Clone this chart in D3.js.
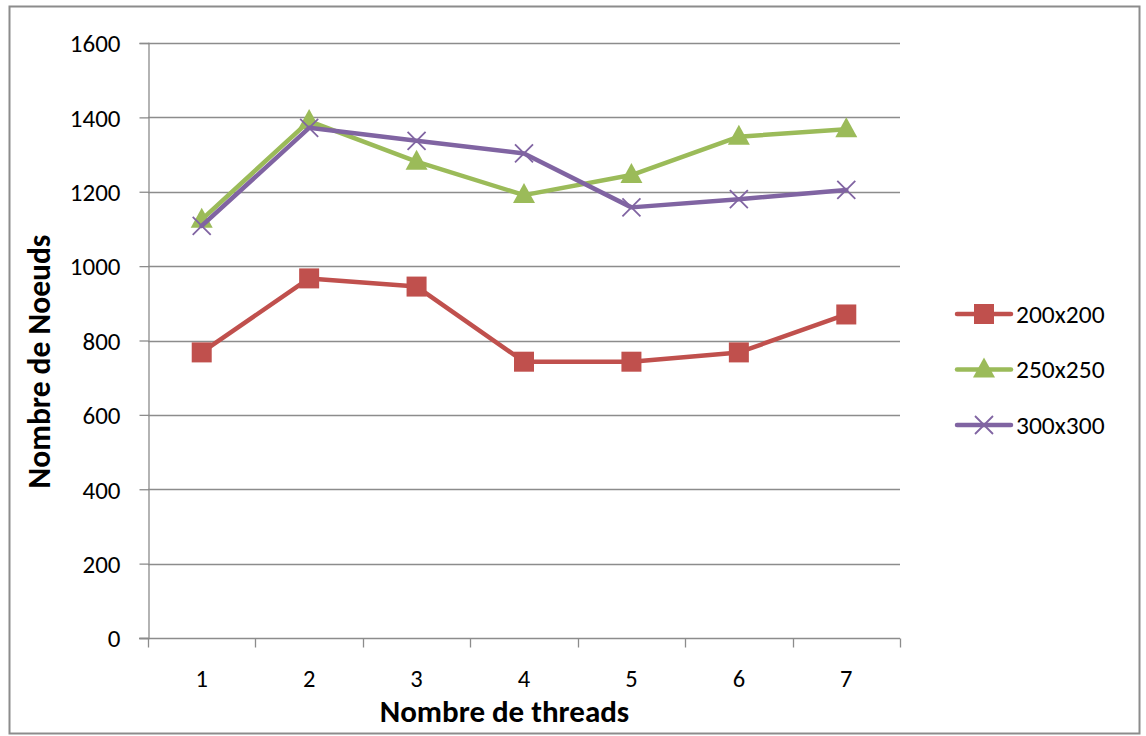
<!DOCTYPE html>
<html>
<head>
<meta charset="utf-8">
<script src="https://cdn.jsdelivr.net/npm/d3@7/dist/d3.min.js"></script>
<style>
  html, body { margin: 0; padding: 0; background: #fff; }
  svg { display: block; font-family: Calibri, Carlito, "Open Sans", "Noto Sans", sans-serif; }
</style>
</head>
<body>
<svg id="chart" width="1146" height="736"></svg>
<script>
// Thread counts on the x axis
const threads = [1, 2, 3, 4, 5, 6, 7];
// Node counts per grid size
const s200 = [768, 967, 945, 743, 743, 768, 870];
const s250 = [1125, 1390, 1281, 1191, 1245, 1348, 1368];
const s300 = [1108, 1372, 1337, 1303, 1158, 1180, 1205];
const seriesNames = ["200x200", "250x250", "300x300"];
const yTicks = [0, 200, 400, 600, 800, 1000, 1200, 1400, 1600];

const series = [
  { name: seriesNames[0], values: s200, color: "#C0504D", marker: "square" },
  { name: seriesNames[1], values: s250, color: "#9BBB59", marker: "triangle" },
  { name: seriesNames[2], values: s300, color: "#8064A2", marker: "cross" }
];

const svg = d3.select("#chart");
const plot = { left: 148, right: 900, top: 43, bottom: 638 };
const gridColor = "#8c8c8c";
const fontStack = "Calibri, Carlito, 'Open Sans', sans-serif";

// Outer chart frame
svg.append("rect")
  .attr("x", 9.5).attr("y", 6.5)
  .attr("width", 1130).attr("height", 727)
  .attr("fill", "#fff").attr("stroke", "#8c8c8c").attr("stroke-width", 2);

const x = d3.scaleBand().domain(threads).range([plot.left, plot.right]).padding(0);
const y = d3.scaleLinear().domain([0, 1600]).range([plot.bottom, plot.top]);

// Horizontal gridlines
svg.append("g").selectAll("line").data(yTicks.filter(d => d > 0)).join("line")
  .attr("x1", plot.left).attr("x2", plot.right)
  .attr("y1", d => Math.round(y(d)) + 0.5).attr("y2", d => Math.round(y(d)) + 0.5)
  .attr("stroke", gridColor).attr("stroke-width", 1.3);

// Y axis
const yAxis = svg.append("g")
  .attr("transform", `translate(${plot.left + 0.5},0)`)
  .call(d3.axisLeft(y).tickValues(yTicks).tickSize(9).tickPadding(19).tickFormat(d3.format("d")));
yAxis.select(".domain").attr("stroke", gridColor).attr("stroke-width", 1.3);
yAxis.selectAll(".tick line").attr("stroke", gridColor).attr("stroke-width", 1.3);
yAxis.selectAll(".tick text").attr("font-size", 25).attr("fill", "#000")
  .attr("dy", "0.35em")
  .style("font-family", fontStack);

// X axis: ticks sit on the band boundaries, labels at band centres
const xAxisG = svg.append("g").attr("transform", `translate(0,${plot.bottom + 0.5})`);
xAxisG.append("line")
  .attr("x1", plot.left - 9).attr("x2", plot.right)
  .attr("stroke", gridColor).attr("stroke-width", 1.3);
const bounds = threads.map(t => x(t)).concat([x(threads[threads.length - 1]) + x.bandwidth()]);
xAxisG.selectAll("line.tk").data(bounds).join("line").attr("class", "tk")
  .attr("x1", d => Math.round(d) + 0.5).attr("x2", d => Math.round(d) + 0.5)
  .attr("y1", 0).attr("y2", 9)
  .attr("stroke", gridColor).attr("stroke-width", 1.3);
xAxisG.selectAll("text").data(threads).join("text")
  .attr("x", d => x(d) + x.bandwidth() / 2)
  .attr("y", 48.5)
  .attr("text-anchor", "middle")
  .attr("font-size", 24.5).attr("fill", "#000")
  .text(d => d);

// Axis titles
svg.append("text")
  .attr("x", 504.5).attr("y", 721.5)
  .attr("text-anchor", "middle").attr("font-size", 31).attr("font-weight", "bold")
  .text("Nombre de threads");
svg.append("text")
  .attr("transform", "translate(50,361.5) rotate(-90)")
  .attr("text-anchor", "middle").attr("font-size", 31.5).attr("font-weight", "bold")
  .text("Nombre de Noeuds");

// Marker drawing
function drawMarker(g, type, color, cx, cy) {
  if (type === "square") {
    g.append("rect").attr("x", cx - 10).attr("y", cy - 10).attr("width", 20).attr("height", 20)
      .attr("fill", color);
  } else if (type === "triangle") {
    g.append("path")
      .attr("d", `M${cx},${cy - 12}L${cx + 11},${cy + 8}L${cx - 11},${cy + 8}Z`)
      .attr("fill", color);
  } else {
    g.append("path")
      .attr("d", `M${cx - 9},${cy - 9}L${cx + 9},${cy + 9}M${cx + 9},${cy - 9}L${cx - 9},${cy + 9}`)
      .attr("stroke", color).attr("stroke-width", 1.8).attr("fill", "none");
  }
}

const line = d3.line()
  .x((d, i) => x(threads[i]) + x.bandwidth() / 2)
  .y(d => y(d));

series.forEach(s => {
  const g = svg.append("g");
  g.append("path").attr("d", line(s.values))
    .attr("fill", "none").attr("stroke", s.color).attr("stroke-width", 4.5)
    .attr("stroke-linejoin", "round").attr("stroke-linecap", "round");
  s.values.forEach((v, i) => drawMarker(g, s.marker, s.color, x(threads[i]) + x.bandwidth() / 2, y(v)));
});

// Legend
const legend = svg.append("g");
series.forEach((s, i) => {
  const ly = 314 + i * 55.5;
  const g = legend.append("g");
  g.append("line").attr("x1", 957).attr("x2", 1011).attr("y1", ly).attr("y2", ly)
    .attr("stroke", s.color).attr("stroke-width", 4.5).attr("stroke-linecap", "round");
  drawMarker(g, s.marker, s.color, 984, ly);
  g.append("text").attr("x", 1016).attr("y", ly + 8.5)
    .attr("font-size", 25.5).attr("fill", "#000").text(s.name);
});
</script>
</body>
</html>
